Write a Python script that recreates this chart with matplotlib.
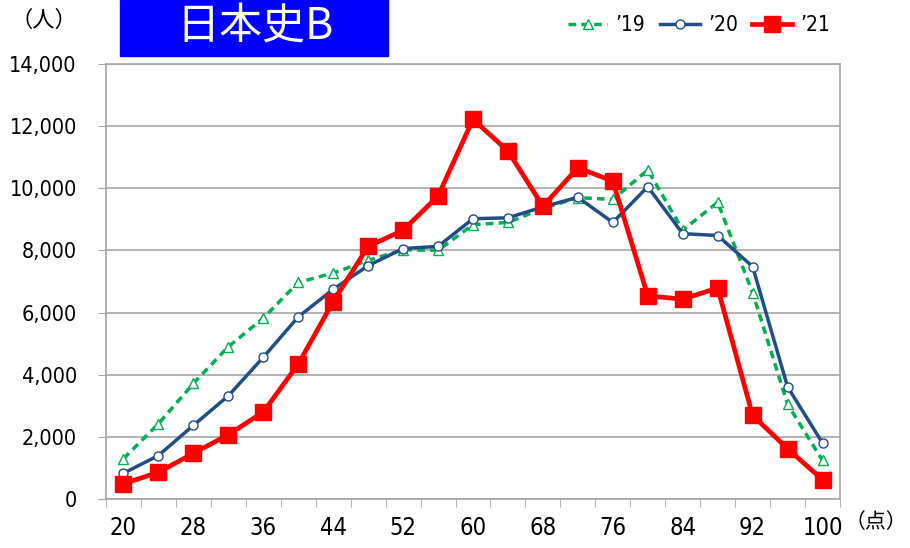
import numpy as np
import matplotlib.pyplot as plt
from matplotlib.patches import Rectangle

plt.rcParams['font.family'] = ['DejaVu Sans', 'Noto Sans CJK JP']
plt.rcParams['font.stretch'] = 'condensed'

scores = [20, 24, 28, 32, 36, 40, 44, 48, 52, 56, 60, 64, 68, 72, 76, 80, 84, 88, 92, 96, 100]
y19 = [1300, 2420, 3720, 4900, 5820, 6970, 7270, 7680, 8020, 8000, 8830, 8900, 9350, 9700, 9640, 10590, 8650, 9550, 6640, 3050, 1240]
y20 = [830, 1400, 2370, 3320, 4560, 5860, 6750, 7510, 8060, 8130, 9020, 9050, 9400, 9710, 8900, 10050, 8540, 8480, 7480, 3610, 1800]
y21 = [490, 860, 1470, 2070, 2800, 4340, 6350, 8130, 8650, 9750, 12220, 11200, 9420, 10660, 10230, 6540, 6430, 6790, 2690, 1620, 620]
series_labels = ['’19', '’20', '’21']

x = np.arange(len(scores))
grid_c = '#A6A6A6'
cjk = ['Noto Sans CJK JP', 'DejaVu Sans']

fig = plt.figure(figsize=(9.1, 5.48), dpi=100)
ax = fig.add_axes([106/910, 49/548, 734/910, 435/548])

ax.plot(x, y19, color='#00B050', lw=2.5, ls=(0, (2.2, 1.5)), marker='^', ms=7.5,
        mfc='white', mec='#00B050', mew=1.0, label=series_labels[0], zorder=3)
ax.plot(x, y20, color='#1F4E86', lw=2.5, marker='o', ms=6.5,
        mfc='white', mec='#1F4E86', mew=1.0, label=series_labels[1], zorder=4)
ax.plot(x, y21, color='#FF0000', lw=3.4, marker='s', ms=11.5,
        mfc='#FF0000', mec='#FF0000', label=series_labels[2], zorder=5)

ax.set_xlim(-0.5, len(scores) - 0.5)
ax.set_ylim(0, 14000)
ax.set_yticks(np.arange(0, 14001, 2000))
ax.set_yticklabels([f'{v:,}' for v in range(0, 14001, 2000)], fontsize=15.5)
ax.set_xticks(x[::2])
ax.set_xticklabels([str(s) for s in scores[::2]], fontsize=17)
ax.set_xticks(np.arange(-0.5, len(scores), 1), minor=True)
ax.tick_params(axis='x', which='major', length=0, pad=12)
ax.tick_params(axis='x', which='minor', length=6, color=grid_c, direction='out')
ax.tick_params(axis='y', length=6, color=grid_c, direction='out', pad=15)
ax.grid(axis='y', color=grid_c, lw=1.2)
ax.set_axisbelow(True)
for s in ax.spines.values():
    s.set_color(grid_c)
    s.set_linewidth(1.2)

# title box
fig.patches.append(Rectangle((120/910, (548-56)/548), 268/910, 56/548,
                             transform=fig.transFigure, color='#0000FF', zorder=0))
fig.text(255/910, (548-27)/548, '日本史B', color='white', fontsize=31,
         ha='center', va='center', family=cjk)
fig.text(44/910, (548-20)/548, '（人）', fontsize=16, ha='center', va='center', family=cjk)
fig.text(876/910, (548-522)/548, '（点）', fontsize=15, ha='center', va='center', family=cjk)

fig.legend(loc='center', bbox_to_anchor=(699/910, (548-25)/548), ncol=3, frameon=False,
           fontsize=15, handlelength=1.9, columnspacing=0.7, handletextpad=0.4)

fig.savefig('out.png', dpi=100)
